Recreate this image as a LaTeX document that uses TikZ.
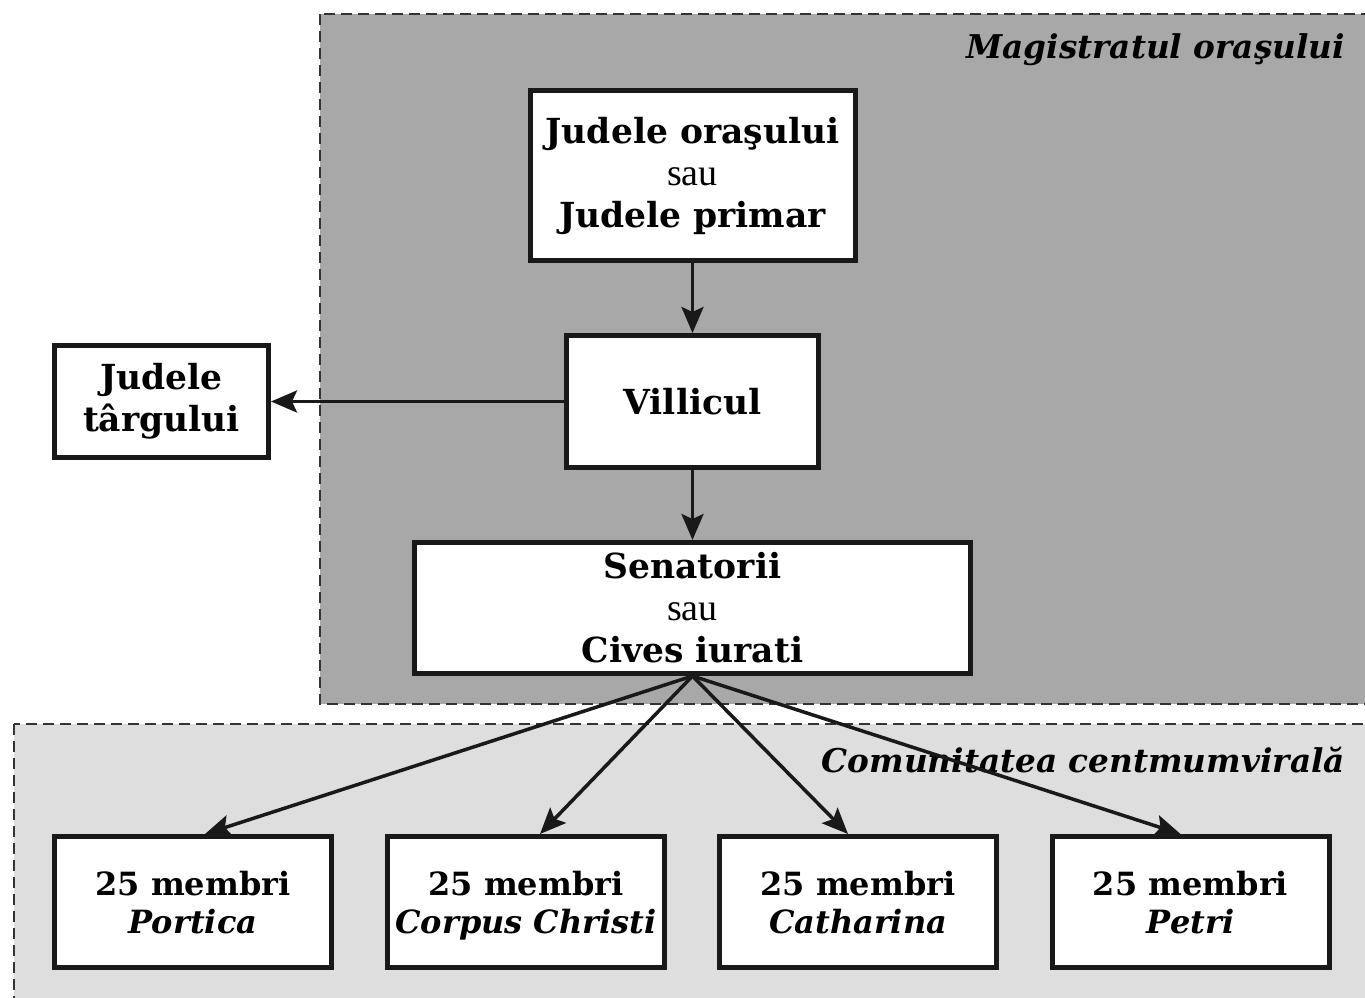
\documentclass[tikz,border=0pt]{standalone}
\usepackage{fontspec}
\setmainfont{DejaVu Serif}
\newfontfamily\saufont{Liberation Serif}
\newcommand\sautext[1]{{\fontsize{38}{42}\selectfont\saufont\mdseries #1}}
\newcommand\grpname[1]{\raisebox{0pt}[\height][0pt]{\textit{#1}}}
\usetikzlibrary{arrows.meta}
\definecolor{darkreg}{HTML}{A8A8A8}
\definecolor{lightreg}{HTML}{DEDEDE}
\definecolor{dashc}{HTML}{333333}
\begin{document}
\begin{tikzpicture}[x=1pt,y=-1pt,
  box/.style={draw=black!90,line width=5pt,fill=white,inner sep=0pt,align=center,font=\fontsize{34.5}{42}\selectfont\bfseries},
  smallbox/.style={box,minimum width=277pt,minimum height=131pt,font=\fontsize{32}{38}\selectfont\bfseries},
  region/.style={draw=dashc,line width=2pt,dash pattern=on 11pt off 6pt},
  conn/.style={line width=3.5pt,draw=black!90,-{Stealth[length=26pt,width=22pt,inset=5pt]}},
  reglabel/.style={anchor=east,inner sep=0pt,font=\fontsize{32.7}{36}\selectfont\bfseries\itshape}
]
\useasboundingbox (0,0) rectangle (1365,998);
\fill[white] (0,0) rectangle (1365,998);
\draw[region,fill=darkreg] (320,14) rectangle (1380,704);
\draw[region,fill=lightreg] (14,724) rectangle (1380,1010);
\node[reglabel] (lmag) at (1345,50) {Magistratul oraşului};
\node[reglabel] (lcom) at (1345,760) {Comunitatea centmumvirală};

\node[box,minimum width=325pt,minimum height=170pt] (jud) at (692.5,175.5)
  {Judele oraşului\\\sautext{sau}\\Judele primar};
\node[box,minimum width=252pt,minimum height=132pt] (vil) at (692.5,401.5) {Villicul};
\node[box,minimum width=214pt,minimum height=112pt] (tar) at (161.5,401.5) {Judele\\târgului};
\node[box,minimum width=556pt,minimum height=131pt] (sen) at (692.5,608)
  {Senatorii\\\sautext{sau}\\Cives iurati};

\node[smallbox] (b1) at (193,902) {25 membri\\\grpname{Portica}};
\node[smallbox] (b2) at (526,902) {25 membri\\\grpname{Corpus Christi}};
\node[smallbox] (b3) at (858,902) {25 membri\\\grpname{Catharina}};
\node[smallbox] (b4) at (1190.5,902) {25 membri\\\grpname{Petri}};

\draw[conn] (jud.south) -- (vil.north);
\draw[conn] (vil.west) -- (tar.east);
\draw[conn] (vil.south) -- (sen.north);
\draw[conn] (sen.south) -- ([xshift=12pt]b1.north);
\draw[conn] (sen.south) -- ([xshift=14pt]b2.north);
\draw[conn] (sen.south) -- ([xshift=-10pt]b3.north);
\draw[conn] (sen.south) -- ([xshift=-10pt]b4.north);
\end{tikzpicture}
\end{document}
